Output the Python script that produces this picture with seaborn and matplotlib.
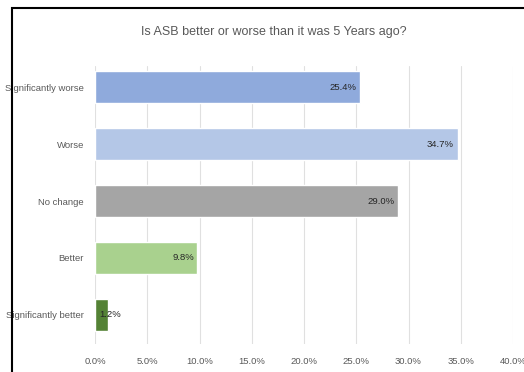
import matplotlib
matplotlib.use("Agg")
import matplotlib.pyplot as plt
import seaborn as sns
import pandas as pd
from matplotlib.patches import Rectangle
from matplotlib.ticker import FuncFormatter

categories = ["Significantly worse", "Worse", "No change", "Better", "Significantly better"]
values = [25.4, 34.7, 29.0, 9.8, 1.2]
colors = ["#8FAADC", "#B4C7E7", "#A5A5A5", "#A9D18E", "#548235"]
title = "Is ASB better or worse than it was 5 Years ago?"

sns.set_style("white")
plt.rcParams['font.family'] = ['Liberation Sans Narrow', 'Liberation Sans', 'DejaVu Sans']

df = pd.DataFrame({"cat": categories, "val": values})

fig = plt.figure(figsize=(5.24, 3.72), dpi=100)
ax = fig.add_axes([95/524, 1-344/372, 418/524, 278/372])
sns.barplot(data=df, x="val", y="cat", hue="cat", palette=colors, legend=False,
            width=0.56, ax=ax, orient="h", saturation=1)

ax.set_xlim(0, 40)
ax.set_ylim(4.51, -0.37)
ax.set_xticks(range(0, 41, 5))
ax.xaxis.set_major_formatter(FuncFormatter(lambda v, p: f"{v:.1f}%"))
ax.grid(axis="x", color="#E0E0E0", linewidth=0.8)
ax.set_axisbelow(True)
for s in ax.spines.values():
    s.set_visible(False)
ax.set_xlabel("")
ax.set_ylabel("")
ax.tick_params(axis="both", length=0, labelsize=6.8, colors="#595959")
ax.tick_params(axis="x", pad=9)
ax.tick_params(axis="y", pad=8)

for i, v in enumerate(values):
    if v > 3:
        ax.text(v - 0.35, i, f"{v:.1f}%", ha="right", va="center", fontsize=6.8, color="#262626")
    else:
        ax.text(v - 0.75, i, f"{v:.1f}%", ha="left", va="center", fontsize=6.8, color="#262626")

fig.text(274/524, 1-32/372, title, ha="center", va="center", fontsize=9, color="#595959")

fig.patches.append(Rectangle((12/524, -0.1), 1.2, 1 - 8/372 + 0.1, transform=fig.transFigure,
                             fill=False, edgecolor="black", linewidth=1.5))
fig.savefig("out.png", dpi=100)
